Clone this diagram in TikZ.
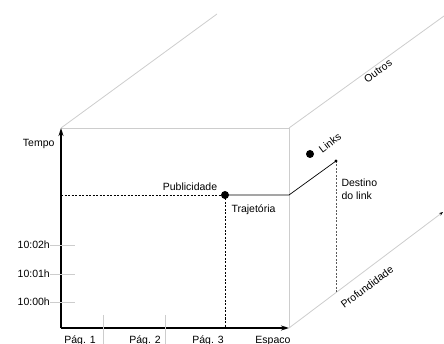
\documentclass[tikz,border=0pt]{standalone}
\usepackage{fontspec}
\setmainfont{Liberation Sans}
\usetikzlibrary{arrows.meta,positioning,calc}
\definecolor{boxgray}{RGB}{205,205,205}
\definecolor{dashgray}{RGB}{90,90,90}

\begin{document}
\begin{tikzpicture}[x=1pt,y=-1pt,font=\fontsize{10.5}{13}\selectfont,
    edge/.style={boxgray,line width=0.8pt},
    axis/.style={line width=1.4pt,-{Stealth[length=8pt,width=5pt]}},
    guide/.style={line width=0.6pt,dash pattern=on 2pt off 1.5pt}]
    \useasboundingbox (0,0) rectangle (444,344);
    % box corners
    \coordinate (o) at (61,328);
    \coordinate (tl) at (61,128);
    \coordinate (tr) at (289,128);
    \coordinate (br) at (289,328);
    \coordinate (tlb) at (217,14);
    \coordinate (trb) at (444,16);
    \coordinate (brb) at (443,212);
    \draw[edge] (tl) -- (tr) -- (br);
    \draw[edge] (tl) -- (tlb);
    \draw[edge] (tr) -- (trb);
    \draw[edge,-{Stealth[black,length=4pt,width=3pt]}] (br) -- (brb);
    % axes
    \draw[axis] (o) -- (tl);
    \draw[axis] (o) -- (br);
    \node[anchor=east] (tempo) at (58,144) {Tempo};
    \foreach \y/\t in {245/10:02h,274/10:01h,302/10:00h} {
        \node[anchor=east,inner sep=0pt] (t\y) at (50,\y) {\t};
        \draw[edge] (t\y.east) -- +(25,0);
    }
    \foreach \x in {103,165}
        \draw[edge] (\x,315) -- (\x,344);
    \node (pag1) at (80,341) {Pág. 1};
    \node (pag2) at (145,341) {Pág. 2};
    \node (pag3) at (208,341) {Pág. 3};
    \node (espaco) at (273,341) {Espaco};
    % trajectory
    \coordinate (pub) at (225,195);
    \coordinate (dest) at (336,161);
    \coordinate (foot) at (336,292.5);
    \draw[guide] (o |- pub) -- (pub);
    \draw[guide] (pub) -- (pub |- o);
    \draw[line width=0.7pt] (pub) -- (pub -| br) -- (dest);
    \draw[guide,dashgray] (dest) -- (foot);
    \fill (pub) circle (4);
    \fill (dest) circle (1.6);
    \node (publab) at (190,187) {Publicidade};
    \node (traj) at (253.5,210) {Trajetória};
    \node[anchor=west,align=left] (destlab) at (338,189) {Destino\\do link};
    \fill (310,154) circle (4);
    \node[rotate=37] (links) at (330,143) {Links};
    % depth labels
    \node[rotate=36] (outros) at (378,71) {Outros};
    \node[rotate=37] (prof) at (367,287) {Profundidade};
\end{tikzpicture}
\end{document}
